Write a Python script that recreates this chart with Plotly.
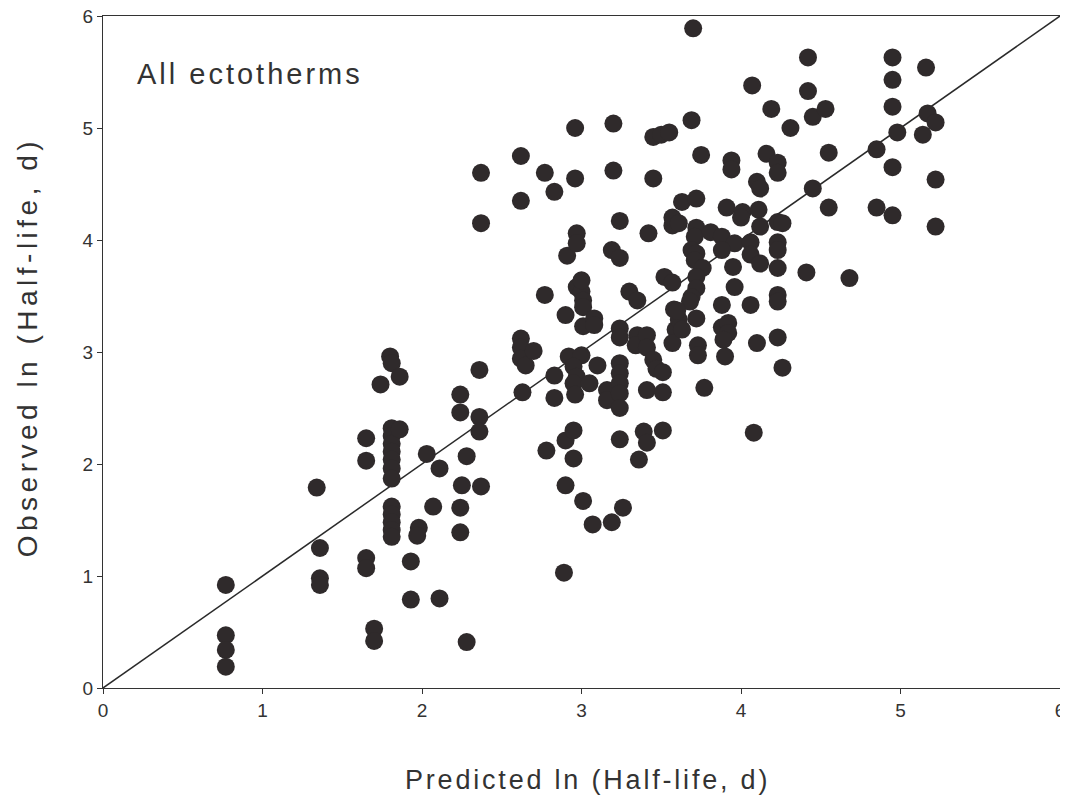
import plotly.graph_objects as go

pred = [0.77,0.77,0.77,0.77,1.34,1.36,1.36,1.36,1.65,1.65,1.65,1.65,1.70,1.70,1.74,1.80,1.81,1.86,
        1.81,1.81,1.81,1.81,1.81,1.81,1.81,1.86,1.81,1.81,1.81,1.81,1.81,1.93,1.93,1.98,1.97,2.03,
        2.07,2.11,2.11,2.24,2.24,2.25,2.24,2.24,2.28,2.28,2.36,2.36,2.36,2.37,2.37,2.37,2.62,2.62,
        2.62,2.62,2.62,2.65,2.70,2.63,2.77,2.83,2.77,2.78,2.83,2.83,2.90,2.91,2.90,2.90,2.89,2.96,
        2.96,2.97,2.97,2.97,3.00,3.01,3.01,3.00,3.01,2.92,3.00,2.95,2.97,2.95,3.05,2.96,2.95,2.95,
        3.01,3.07,3.10,3.08,3.08,3.16,3.16,3.19,3.20,3.20,3.19,3.24,3.24,3.24,3.24,3.24,3.24,3.24,
        3.24,3.24,3.24,3.26,3.30,3.35,3.35,3.34,3.36,3.39,3.41,3.41,3.41,3.41,3.42,3.45,3.50,3.55,
        3.45,3.45,3.47,3.51,3.51,3.51,3.52,3.57,3.57,3.57,3.61,3.58,3.59,3.57,3.61,3.63,3.69,3.70,
        3.72,3.72,3.71,3.81,3.88,3.96,3.69,3.72,3.71,3.88,3.76,3.72,3.72,3.69,3.68,3.72,3.73,3.73,
        3.77,3.75,3.94,3.94,3.91,3.95,3.96,3.88,3.88,3.92,3.92,3.89,3.90,4.01,4.00,4.06,4.06,4.12,
        4.06,4.10,4.08,4.07,4.10,4.12,4.11,4.12,4.16,4.23,4.23,4.19,4.23,4.23,4.23,4.23,4.23,4.23,
        4.23,4.26,4.26,4.31,4.42,4.42,4.45,4.53,4.45,4.55,4.55,4.41,4.68,4.85,4.85,4.95,4.95,4.95,
        4.98,4.95,4.95,5.16,5.17,5.22,5.14,5.22,5.22,3.60,3.63]

obs = [0.92,0.47,0.34,0.19,1.79,1.25,0.98,0.92,2.23,2.03,1.16,1.07,0.53,0.42,2.71,2.96,2.90,2.78,
       2.32,2.25,2.18,2.11,2.04,1.96,1.87,2.31,1.62,1.55,1.48,1.41,1.35,1.13,0.79,1.43,1.36,2.09,
       1.62,1.96,0.80,2.62,2.46,1.81,1.61,1.39,2.07,0.41,2.84,2.42,2.29,1.80,4.15,4.60,4.75,4.35,
       3.12,3.04,2.94,2.88,3.01,2.64,4.60,4.43,3.51,2.12,2.79,2.59,3.33,3.86,2.21,1.81,1.03,5.00,
       4.55,4.06,3.97,3.58,3.54,3.46,3.40,3.64,3.23,2.96,2.97,2.87,2.78,2.72,2.72,2.62,2.30,2.05,
       1.67,1.46,2.88,3.30,3.24,2.66,2.57,1.48,5.04,4.62,3.91,3.84,4.17,3.21,3.13,2.90,2.81,2.72,
       2.63,2.50,2.22,1.61,3.54,3.46,3.15,3.06,2.04,2.29,2.19,3.15,3.04,2.66,4.06,4.92,4.94,4.96,
       4.55,2.93,2.85,2.82,2.64,2.30,3.67,3.62,4.13,4.20,4.15,3.38,3.20,3.08,3.29,4.34,5.07,5.89,
       4.37,4.11,4.03,4.07,4.03,3.97,3.91,3.88,3.82,3.91,3.75,3.67,3.57,3.49,3.45,3.30,3.06,2.97,
       2.68,4.76,4.71,4.63,4.29,3.76,3.58,3.42,3.22,3.26,3.17,3.11,2.96,4.25,4.20,3.98,3.87,3.79,
       3.42,3.08,2.28,5.38,4.52,4.46,4.27,4.12,4.77,4.69,4.60,5.17,4.16,3.98,3.91,3.75,3.51,3.45,
       3.13,2.86,4.15,5.00,5.63,5.33,5.10,5.17,4.46,4.78,4.29,3.71,3.66,4.81,4.29,5.63,5.43,5.19,
       4.96,4.65,4.22,5.54,5.13,5.05,4.94,4.54,4.12,3.37,3.20]

line_x = [0, 6]
line_y = [0, 6]

x_ticks = [0, 1, 2, 3, 4, 5, 6]
y_ticks = [0, 1, 2, 3, 4, 5, 6]

font_family = "Liberation Sans, Arial, sans-serif"
text_color = "#333333"

fig = go.Figure()
fig.add_trace(go.Scatter(x=line_x, y=line_y, mode="lines",
                         line=dict(color="#2a2a2a", width=1.5), showlegend=False, hoverinfo="skip"))
fig.add_trace(go.Scatter(x=pred, y=obs, mode="markers",
                         marker=dict(size=18, color="#2f2a2b", line=dict(width=0)),
                         showlegend=False))

fig.add_annotation(x=0.2, y=5.48, xref="x", yref="y",
                   text='<span style="letter-spacing:3px">All ectotherms</span>',
                   showarrow=False, xanchor="left", yanchor="middle",
                   font=dict(family=font_family, size=29, color=text_color))

fig.add_annotation(x=0.506, y=0, xref="paper", yref="paper", yshift=-92,
                   text='<span style="letter-spacing:2.8px">Predicted ln (Half-life, d)</span>',
                   showarrow=False, xanchor="center", yanchor="middle",
                   font=dict(family=font_family, size=27, color=text_color))

fig.add_annotation(x=0, y=0.507, xref="paper", yref="paper", xshift=-76, textangle=-90,
                   text='<span style="letter-spacing:4.5px">Observed ln (Half-life, d)</span>',
                   showarrow=False, xanchor="center", yanchor="middle",
                   font=dict(family=font_family, size=28, color=text_color))

axis_common = dict(range=[0, 6], showgrid=False, zeroline=False, showline=True, linecolor="#333333",
                   linewidth=1.2, mirror=True, ticks="outside", ticklen=5, tickcolor="#333333",
                   automargin=False, ticklabeloverflow="allow",
                   tickfont=dict(family=font_family, size=19, color=text_color))

fig.update_layout(
    width=1060, height=793,
    margin=dict(l=95, r=8, t=8, b=113),
    paper_bgcolor="white", plot_bgcolor="white",
    xaxis=dict(tickvals=x_ticks, **axis_common),
    yaxis=dict(tickvals=y_ticks, **axis_common),
)

fig.write_html("out.html")
